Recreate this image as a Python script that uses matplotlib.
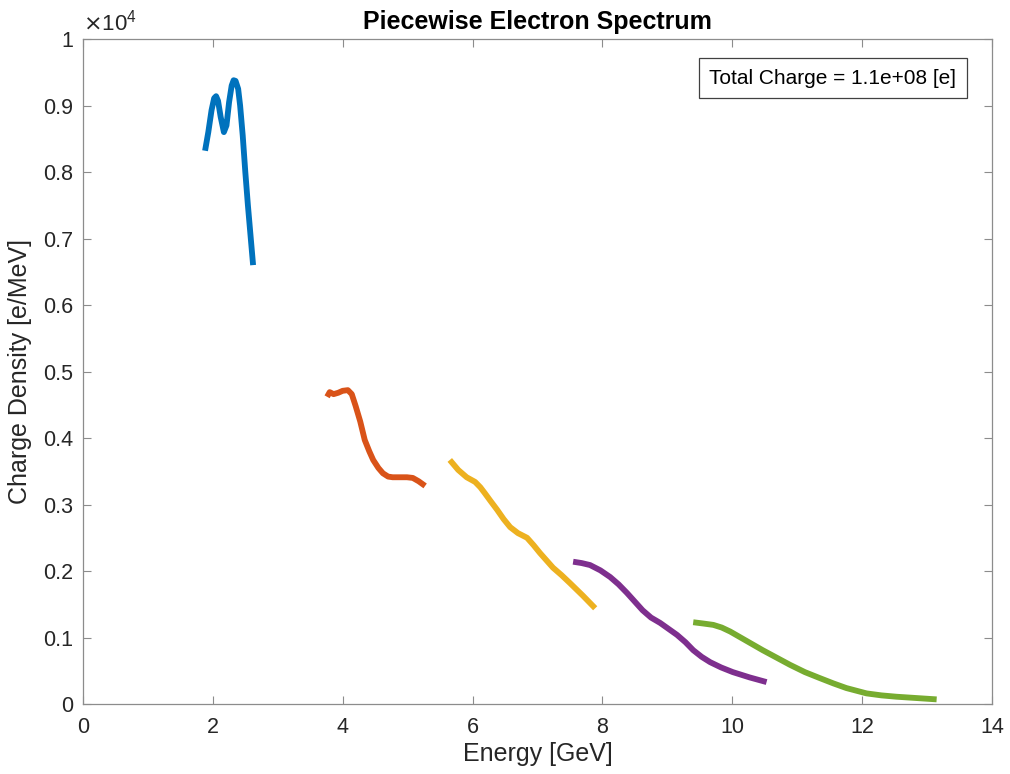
import matplotlib
matplotlib.use("Agg")
import matplotlib.pyplot as plt
from matplotlib.ticker import FuncFormatter

plt.rcParams["font.family"] = ["Liberation Sans", "DejaVu Sans"]

# Energy [GeV] and charge density [e/MeV] for each spectral piece
E1 = [1.88, 1.93, 1.98, 2.02, 2.05, 2.08, 2.12, 2.17, 2.21, 2.25, 2.29,
      2.32, 2.35, 2.39, 2.42, 2.46, 2.50, 2.54, 2.58, 2.62]
Q1 = [8320, 8600, 8930, 9110, 9140, 9070, 8830, 8600, 8700, 9050, 9300,
      9380, 9370, 9250, 9000, 8550, 8000, 7500, 7050, 6600]

E2 = [3.76, 3.80, 3.86, 3.93, 4.00, 4.08, 4.14, 4.20, 4.27, 4.34, 4.41,
      4.47, 4.55, 4.62, 4.70, 4.77, 4.88, 4.99, 5.08, 5.17, 5.27]
Q2 = [4620, 4690, 4660, 4680, 4710, 4720, 4660, 4480, 4250, 3970, 3800,
      3670, 3550, 3470, 3420, 3410, 3410, 3410, 3400, 3350, 3280]

E3 = [5.65, 5.78, 5.91, 6.04, 6.12, 6.19, 6.28, 6.38, 6.48, 6.58, 6.70,
      6.84, 6.94, 7.04, 7.14, 7.24, 7.37, 7.50, 7.70, 7.89]
Q3 = [3670, 3520, 3410, 3340, 3260, 3170, 3050, 2920, 2780, 2660, 2570,
      2500, 2390, 2270, 2160, 2050, 1940, 1820, 1630, 1440]

E4 = [7.55, 7.68, 7.81, 7.97, 8.12, 8.25, 8.38, 8.50, 8.62, 8.75, 8.89,
      9.02, 9.15, 9.28, 9.40, 9.53, 9.66, 9.83, 10.01, 10.27, 10.53]
Q4 = [2140, 2120, 2090, 2010, 1910, 1800, 1670, 1540, 1410, 1300, 1220,
      1130, 1040, 930, 810, 710, 630, 550, 480, 400, 330]

E5 = [9.40, 9.56, 9.71, 9.84, 9.97, 10.22, 10.47, 10.68, 10.89, 11.12,
      11.35, 11.56, 11.76, 12.07, 12.30, 12.53, 12.84, 13.15]
Q5 = [1230, 1210, 1190, 1150, 1090, 950, 810, 700, 590, 480,
      390, 310, 240, 160, 130, 110, 90, 70]

PIECES = [(E1, Q1), (E2, Q2), (E3, Q3), (E4, Q4), (E5, Q5)]
COLORS = ["#0072BD", "#D95319", "#EDB120", "#7E2F8E", "#77AC30"]

X_TICKS = list(range(0, 15, 2))
Y_TICKS = [i * 1000 for i in range(11)]
TOTAL_CHARGE = "1.1e+08"

fig = plt.figure(figsize=(10.1, 7.74), dpi=100)
ax = fig.add_axes([0.0822, 0.0904, 0.8998, 0.8592])

for (e, q), c in zip(PIECES, COLORS):
    ax.plot(e, q, color=c, lw=4.2, solid_capstyle="butt", solid_joinstyle="round")

ax.set_xlim(0, 14)
ax.set_ylim(0, 10000)
ax.set_xticks(X_TICKS)
ax.set_yticks(Y_TICKS)
ax.yaxis.set_major_formatter(FuncFormatter(lambda v, p: f"{v / 1e4:g}"))
ax.tick_params(direction="in", top=True, right=True, length=6, width=0.8,
               colors="#8c8c8c", labelcolor="#262626", labelsize=15.5)
ax.tick_params(axis="x", pad=9)
ax.tick_params(axis="y", pad=7)
for s in ax.spines.values():
    s.set_color("#8c8c8c")
    s.set_linewidth(0.9)

ax.text(0.0, 1.005, r"$\times\mathregular{10^4}$", transform=ax.transAxes,
        fontsize=16, color="#262626", ha="left", va="bottom")

ax.set_xlabel("Energy [GeV]", fontsize=18, color="#262626", labelpad=3)
ax.set_ylabel("Charge Density [e/MeV]", fontsize=18, color="#262626", labelpad=8)
ax.set_title("Piecewise Electron Spectrum", fontsize=18, fontweight="bold",
             color="black", pad=7)

ax.text(0.825, 0.941, f"Total Charge = {TOTAL_CHARGE} [e]", transform=ax.transAxes,
        fontsize=15, color="black", ha="center", va="center",
        bbox=dict(boxstyle="square,pad=0.5", facecolor="white",
                  edgecolor="#404040", linewidth=0.9))

fig.savefig("out.png", dpi=100)
